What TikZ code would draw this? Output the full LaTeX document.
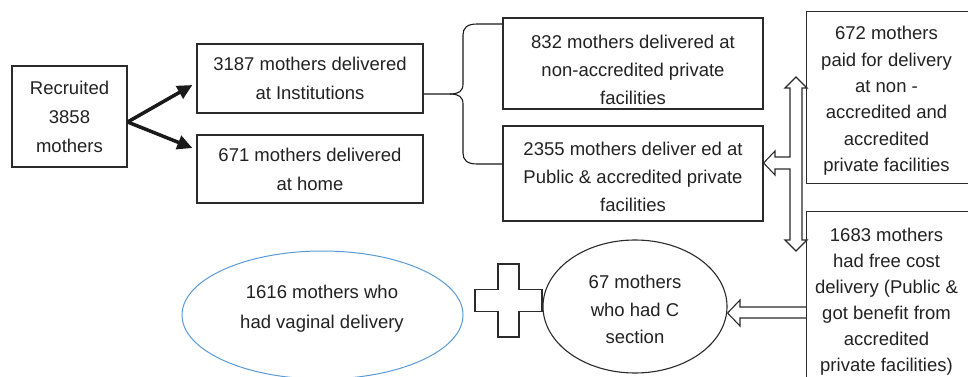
\documentclass[tikz,border=0pt]{standalone}
\usepackage{fontspec}
\setmainfont{Liberation Sans}
\usetikzlibrary{shapes.geometric,arrows.meta,calc}
\definecolor{ln}{HTML}{2B2B2B}
\definecolor{dk}{HTML}{1A1A1A}
\definecolor{tx}{HTML}{222222}
\definecolor{bl}{HTML}{5B9BD5}
\begin{document}
\begin{tikzpicture}[x=1pt,y=-1pt,
  fA/.style={font=\fontsize{18.5}{29}\selectfont},
  fB/.style={font=\fontsize{18.5}{28}\selectfont},
  fC/.style={font=\fontsize{18.5}{26.4}\selectfont},
  fD/.style={font=\fontsize{18.5}{26}\selectfont},
  fE/.style={font=\fontsize{18.5}{30}\selectfont},
  fF/.style={font=\fontsize{18.5}{27.5}\selectfont},
  box/.style={draw=ln, line width=1.2pt, fill=white, inner sep=0pt, align=center, text=tx},
  framebox/.style={inner sep=0pt},
  frameline/.style={draw=ln, line width=1.2pt},
  txt/.style={inner sep=0pt, align=center, text=tx},
  blk/.style={draw=ln, line width=1.1pt, fill=white, line join=miter},
  bigarrow/.style={draw=dk, line width=3.5pt, -{Triangle[length=15pt,width=14pt]}},
  bracepath/.style={draw=dk, line width=1.1pt}]
\useasboundingbox (0,0) rectangle (968,377);
\clip (0,0) rectangle (968,377);
\fill[white] (0,0) rectangle (968,377);

% boxes
\node[box, fA, minimum width=115pt, minimum height=101pt] (rec) at (69.5,116.5) {Recruited\\3858\\mothers};
\node[box, fA, minimum width=226pt, minimum height=69pt] (b3187) at (310,78.5) {3187 mothers delivered\\at Institutions};
\node[box, fA, minimum width=226pt, minimum height=68pt] (b671) at (310,169) {671 mothers delivered\\at home};
\node[box, minimum width=260pt, minimum height=91pt] (b832) at (633,63.5) {};
\node[txt, fB] (t832) at (633,70) {832 mothers delivered at\\non-accredited private\\facilities};
\node[box, minimum width=260pt, minimum height=95pt] (b2355) at (633,173.5) {};
\node[txt, fB] (t2355) at (633,176.5) {2355 mothers deliver ed at\\Public \& accredited private\\facilities};

% right-hand boxes (cut by the page edge)
\node[framebox, minimum width=159pt, minimum height=171pt] (b672) at (886.5,97.5) {};
\node[txt, fC] (t672) at (886.5,101) {672 mothers\\paid for delivery\\at non -\\accredited and\\accredited\\private facilities};
\node[framebox, minimum width=159pt, minimum height=176pt] (b1683) at (886.5,300) {};
\node[txt, fD] (t1683) at (886.5,302) {1683 mothers\\had free cost\\delivery (Public \&\\got benefit from\\accredited\\private facilities)};

% ellipses
\node[ellipse, draw=bl, line width=1pt, minimum width=281pt, minimum height=128pt, inner sep=0pt] (e1616) at (322.5,315) {};
\node[txt, fE] (t1616) at (322,309) {1616 mothers who\\had vaginal delivery};
\node[ellipse, draw=ln, line width=1.1pt, minimum width=184pt, minimum height=133pt, inner sep=0pt] (e67) at (635,306.5) {};
\node[txt, fF] (t67) at (635,309.5) {67 mothers\\who had C\\section};

% plus sign
\coordinate (plus) at (508.5,300.5);
\begin{scope}[shift={(plus)}]
\draw[blk] (-10.5,-36.5) -- (10.5,-36.5) -- (10.5,-11) -- (33.5,-11) -- (33.5,11) -- (10.5,11) -- (10.5,36.5) -- (-10.5,36.5) -- (-10.5,11) -- (-33.5,11) -- (-33.5,-11) -- (-10.5,-11) -- cycle;
\end{scope}

% T-shaped double block arrow
\draw[blk] (796,77) -- (807,88) -- (802,88) -- (802,240) -- (807,240) -- (796,251) -- (785,240) -- (790,240) -- (790,169) -- (775,169) -- (775,175) -- (b2355.east |- 0,163) -- (775,151) -- (775,157) -- (790,157) -- (790,88) -- (785,88) -- cycle;

% block arrow from 1683 box to C-section ellipse
\draw[blk] (b1683.west |- 0,307) -- (740,307) -- (740,300) -- (e67.east |- 0,313) -- (740,326) -- (740,318) -- (b1683.west |- 0,318);

% frames of right-hand boxes
\draw[frameline] ($(b672.north east)+(20,0)$) -| (b672.south west) -- ($(b672.south east)+(20,0)$);
\draw[frameline] ($(b1683.north east)+(20,0)$) -| (b1683.south west);

% arrows from recruited
\coordinate (rs) at ($(rec.east)+(0,5.5)$);
\draw[bigarrow] (rs) -- ($(b3187.west)+(-4,6.5)$);
\draw[bigarrow] (rs) -- ($(b671.west)+(-4,-21)$);

% brace
\coordinate (bt) at ($(b3187.east)+(0,15.5)$);
\draw[bracepath] (bt) -- (450,94) .. controls (459,94) and (463,91) .. (463,84) -- (463,35) .. controls (463,28) and (467,24) .. (477,24) -- (b832.west |- 0,24);
\draw[bracepath] (450,94) .. controls (459,94) and (463,97) .. (463,104) -- (463,153) .. controls (463,160) and (467,164) .. (477,164) -- (b2355.west |- 0,164);
\end{tikzpicture}
\end{document}
